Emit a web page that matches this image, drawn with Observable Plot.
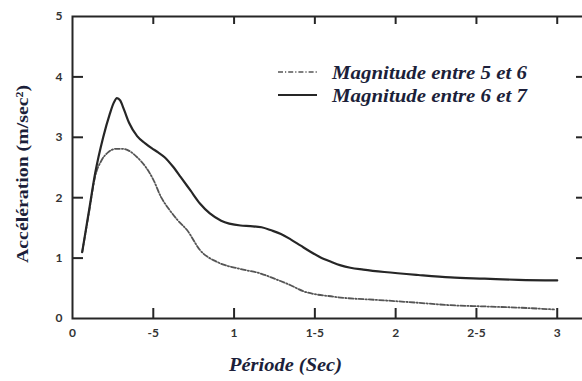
<!DOCTYPE html>
<html>
<head>
<meta charset="utf-8">
<script src="https://cdn.jsdelivr.net/npm/d3@7"></script>
<script src="https://cdn.jsdelivr.net/npm/@observablehq/plot@0.6"></script>
<style>
  html, body { margin: 0; padding: 0; background: #fff; overflow: hidden; }
  #chart { width: 582px; height: 381px; }
</style>
</head>
<body>
<div id="chart"></div>
<script>
// Spectre de réponse moyen : accélération en fonction de la période
const seriesNames = ["Magnitude entre 5 et 6", "Magnitude entre 6 et 7"];

// Magnitude entre 5 et 6 (tiret-point)
const period56 = [0.06, 0.10, 0.14, 0.18, 0.22, 0.27, 0.31, 0.36, 0.40, 0.45, 0.50, 0.55, 0.60, 0.65, 0.71, 0.79, 0.90, 1.04, 1.17, 1.23, 1.35, 1.43, 1.62, 1.93, 2.14, 2.34, 2.55, 2.76, 2.98];
const accel56  = [1.10, 1.72, 2.35, 2.62, 2.75, 2.81, 2.81, 2.76, 2.67, 2.52, 2.30, 2.00, 1.80, 1.63, 1.46, 1.13, 0.93, 0.82, 0.74, 0.68, 0.55, 0.45, 0.36, 0.30, 0.26, 0.22, 0.20, 0.18, 0.15];

// Magnitude entre 6 et 7 (trait plein)
const period67 = [0.06, 0.10, 0.14, 0.19, 0.23, 0.255, 0.275, 0.295, 0.32, 0.35, 0.40, 0.45, 0.49, 0.53, 0.57, 0.62, 0.67, 0.73, 0.79, 0.85, 0.92, 1.04, 1.10, 1.17, 1.23, 1.29, 1.35, 1.41, 1.47, 1.53, 1.60, 1.66, 1.72, 1.80, 1.93, 2.14, 2.34, 2.55, 2.76, 3.00];
const accel67  = [1.10, 1.75, 2.40, 3.00, 3.38, 3.57, 3.65, 3.61, 3.45, 3.24, 3.02, 2.90, 2.82, 2.75, 2.67, 2.52, 2.34, 2.12, 1.90, 1.74, 1.62, 1.54, 1.53, 1.51, 1.46, 1.40, 1.31, 1.21, 1.11, 1.02, 0.94, 0.88, 0.84, 0.81, 0.77, 0.72, 0.68, 0.66, 0.64, 0.63];

// Graduations
const xTicks = [0, 0.5, 1, 1.5, 2, 2.5, 3];
const xTickLabels = ["0", "-5", "1", "1-5", "2", "2-5", "3"];
const yTicks = [0, 1, 2, 3, 4, 5];
const xInnerTicks = xTicks.slice(1);
const yInnerTicks = yTicks.slice(1, -1);

const xTitle = "Période (Sec)";
const yTitle = "Accélération (m/sec²)";

const rows56 = period56.map((p, i) => ({period: p, accel: accel56[i]}));
const rows67 = period67.map((p, i) => ({period: p, accel: accel67[i]}));

const W = 582, H = 381;
const mTop = 16, mBottom = 63, mLeft = 72, mRight = -3;
const innerH = H - mTop - mBottom;
const innerW = W - mLeft - mRight;

const ink = "#262626";
const titleInk = "#1c1f3a";
const dashStyle = "5,2,1.2,2";
const serif = "'Liberation Serif', 'Times New Roman', serif";

// Titres des axes et légende, placés en pixels dans le SVG
function annotations() {
  const g = d3.create("svg:g").attr("fill", titleInk).attr("text-anchor", "start");

  const items = [
    {name: seriesNames[0], dash: dashStyle, stroke: "#555", width: 1.6},
    {name: seriesNames[1], dash: null, stroke: ink, width: 2}
  ];
  items.forEach((it, i) => {
    const y = 72 + i * 23;
    g.append("line")
      .attr("x1", 278).attr("x2", 317).attr("y1", y).attr("y2", y)
      .attr("stroke", it.stroke).attr("stroke-width", it.width)
      .attr("stroke-dasharray", it.dash);
    g.append("text")
      .attr("x", 332).attr("y", y).attr("dy", "0.35em")
      .attr("textLength", 195).attr("lengthAdjust", "spacingAndGlyphs")
      .style("font-family", serif)
      .style("font-style", "italic").style("font-weight", "bold")
      .style("font-size", "19px")
      .text(it.name);
  });

  g.append("text")
    .attr("x", 229).attr("y", 365).attr("dy", "0.35em")
    .attr("textLength", 113).attr("lengthAdjust", "spacingAndGlyphs")
    .style("font-family", serif)
    .style("font-style", "italic").style("font-weight", "bold")
    .style("font-size", "18px")
    .text(xTitle);

  g.append("text")
    .attr("transform", "translate(22,263) rotate(-90)")
    .attr("dy", "0.35em")
    .attr("textLength", 178).attr("lengthAdjust", "spacingAndGlyphs")
    .style("font-family", serif)
    .style("font-weight", "bold")
    .style("font-size", "17px")
    .text(yTitle);

  return g.node();
}

const chart = Plot.plot({
  width: W,
  height: H,
  marginTop: mTop,
  marginBottom: mBottom,
  marginLeft: mLeft,
  marginRight: mRight,
  x: {domain: [0, 3.175]},
  y: {domain: [0, 5]},
  style: {fontFamily: "Lato, sans-serif", fontSize: "12px", fontWeight: "bold", color: ink, background: "#fff", overflow: "visible"},
  marks: [
    Plot.frame({stroke: ink, strokeWidth: 2}),
    // graduations intérieures sur les quatre côtés
    Plot.ruleX(xInnerTicks, {x: d => d, insetTop: innerH - 10, stroke: ink, strokeWidth: 2}),
    Plot.ruleX(xInnerTicks, {x: d => d, insetBottom: innerH - 8, stroke: ink, strokeWidth: 2}),
    Plot.ruleY(yInnerTicks, {y: d => d, insetRight: innerW - 11, stroke: ink, strokeWidth: 2}),
    Plot.ruleY(yInnerTicks, {y: d => d, insetLeft: innerW - 9, stroke: ink, strokeWidth: 2}),
    Plot.axisX({ticks: xTicks, tickFormat: (d, i) => xTickLabels[i], tickSize: 0, tickPadding: 10, label: null, fill: "#333"}),
    Plot.axisY({ticks: yTicks, tickFormat: d3.format("d"), tickSize: 0, tickPadding: 10, label: null, fill: "#333"}),
    Plot.line(rows56, {x: "period", y: "accel", curve: "monotone-x", stroke: "#555", strokeWidth: 1.8, strokeDasharray: dashStyle}),
    Plot.line(rows67, {x: "period", y: "accel", curve: "monotone-x", stroke: ink, strokeWidth: 2.2}),
    annotations
  ]
});

document.getElementById("chart").appendChild(chart);
</script>
</body>
</html>
